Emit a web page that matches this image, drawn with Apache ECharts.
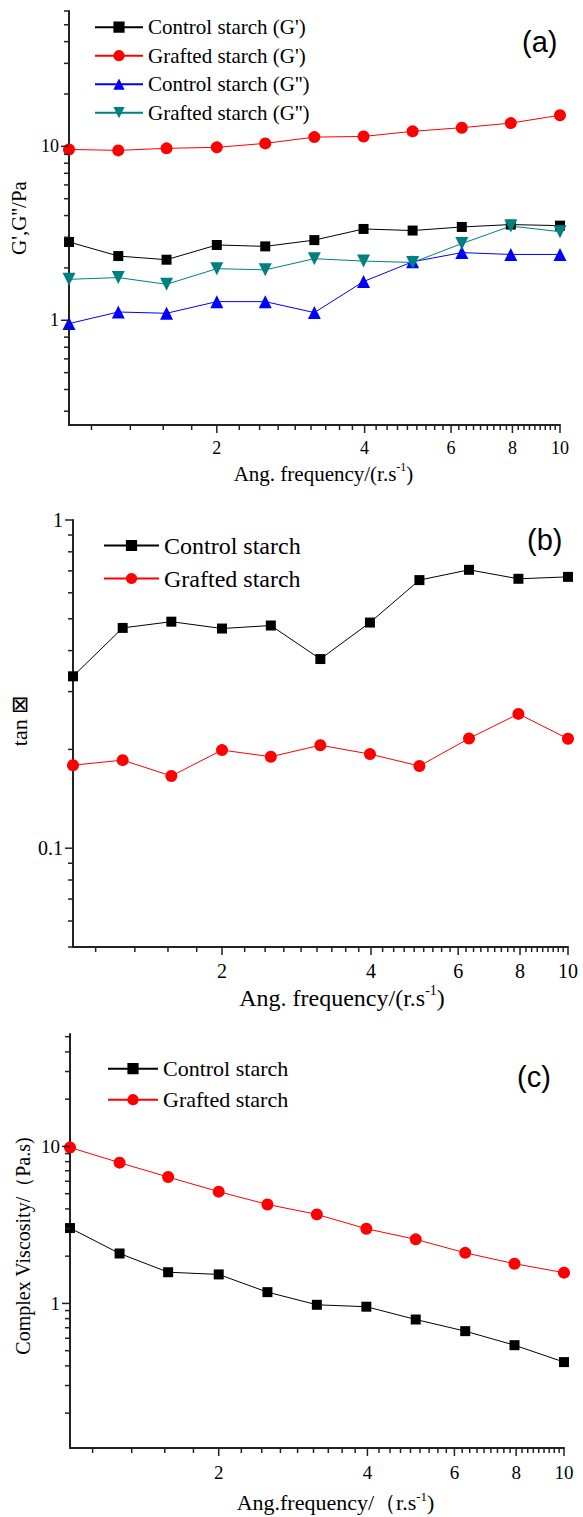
<!DOCTYPE html>
<html><head><meta charset="utf-8">
<script src="https://cdn.jsdelivr.net/npm/echarts@6/dist/echarts.min.js"></script>
<style>html,body{margin:0;padding:0;background:#fff}#c{width:583px;height:1517px}</style>
</head><body><div id="c"></div>
<script>
// ---- data ----
const freq = [1, 1.26, 1.58, 2, 2.51, 3.16, 3.98, 5.01, 6.31, 7.94, 10];
// panel (a)
const gpControl   = [2.82, 2.34, 2.23, 2.71, 2.66, 2.89, 3.35, 3.28, 3.44, 3.55, 3.50];
const gpGrafted   = [9.6, 9.48, 9.74, 9.87, 10.4, 11.3, 11.4, 12.2, 12.8, 13.6, 15.1];
const gppControl  = [0.957, 1.116, 1.097, 1.28, 1.28, 1.107, 1.67, 2.17, 2.45, 2.39, 2.39];
const gppGrafted  = [1.72, 1.76, 1.61, 1.98, 1.95, 2.26, 2.19, 2.15, 2.76, 3.48, 3.23];
// panel (b)
const tanControl  = [0.334, 0.469, 0.49, 0.467, 0.477, 0.377, 0.487, 0.656, 0.705, 0.662, 0.671];
const tanGrafted  = [0.179, 0.1855, 0.166, 0.199, 0.19, 0.206, 0.1935, 0.178, 0.216, 0.2566, 0.2155];
// panel (c)
const viscControl = [3.02, 2.08, 1.58, 1.53, 1.18, 0.98, 0.953, 0.79, 0.666, 0.542, 0.423];
const viscGrafted = [9.85, 7.88, 6.38, 5.15, 4.27, 3.69, 2.99, 2.56, 2.10, 1.79, 1.57];

// ---- axes / ticks ----
const xRange = [1, 10];
const xMajorTicks = [2, 4, 6, 8, 10];
const xTickLabels = ['2', '4', '6', '8', '10'];
const yRangeA = [0.25, 60], yMajorA = [1, 10],  yLabelsA = ['1', '10'];
const yRangeB = [0.05, 1],  yMajorB = [0.1, 1], yLabelsB = ['0.1', '1'];
const yRangeC = [0.12, 52], yMajorC = [1, 10],  yLabelsC = ['1', '10'];

const SERIF = 'Liberation Serif';
const SANS = 'Liberation Sans';

function xMinor() { const o = []; for (let n = 5; n < 45; n++) if (n % 9 !== 0) o.push(2 * n / 9); return o; }
function yMinor(r) {
  const o = [];
  for (let d = -3; d < 3; d++) for (let k = 2; k <= 9; k++) {
    const v = k * Math.pow(10, d);
    if (v >= r[0] * 0.9999 && v <= r[1] * 1.0001) o.push(v);
  }
  return o;
}
function pairs(vals) { return freq.map((f, i) => [f, vals[i]]); }

function xTicks(gi, yMin, fontSize, labelOff) {
  const data = xMajorTicks.map((v, i) => [v, yMin, 1, i]).concat(xMinor().map(v => [v, yMin, 0, -1]));
  return {
    type: 'custom', xAxisIndex: gi, yAxisIndex: gi, silent: true, clip: false, z: 10,
    data: data,
    renderItem: function (params, api) {
      const p = api.coord([api.value(0), api.value(1)]);
      const major = api.value(2) === 1;
      const ch = [{ type: 'line', shape: { x1: p[0], y1: p[1], x2: p[0], y2: p[1] + (major ? 8 : 5) },
        style: { stroke: '#222', lineWidth: 1.5 } }];
      if (major) ch.push({ type: 'text', style: { text: xTickLabels[api.value(3)], x: p[0], y: p[1] + labelOff,
        align: 'center', verticalAlign: 'middle', font: fontSize + 'px ' + SERIF, fill: '#000' } });
      return { type: 'group', children: ch };
    }
  };
}
function yTicks(gi, range, majors, labels, fontSize) {
  const data = majors.map((v, i) => [xRange[0], v, 1, i]).concat(yMinor(range).map(v => [xRange[0], v, 0, -1]));
  return {
    type: 'custom', xAxisIndex: gi, yAxisIndex: gi, silent: true, clip: false, z: 10,
    data: data,
    renderItem: function (params, api) {
      const p = api.coord([api.value(0), api.value(1)]);
      const major = api.value(2) === 1;
      const ch = [{ type: 'line', shape: { x1: p[0], y1: p[1], x2: p[0] - (major ? 8 : 5), y2: p[1] },
        style: { stroke: '#222', lineWidth: 1.5 } }];
      if (major) ch.push({ type: 'text', style: { text: labels[api.value(3)], x: p[0] - 10, y: p[1],
        align: 'right', verticalAlign: 'middle', font: fontSize + 'px ' + SERIF, fill: '#000' } });
      return { type: 'group', children: ch };
    }
  };
}

const DOWN_TRI = 'path://M0,0L10,0L5,9Z';
function lineSeries(gi, name, vals, symbol, size, color) {
  return { type: 'line', name: name, xAxisIndex: gi, yAxisIndex: gi, data: pairs(vals),
    symbol: symbol, symbolSize: size, showAllSymbol: true, clip: false,
    lineStyle: { color: color, width: 1 }, itemStyle: { color: color } };
}

const axisLine = { show: true, onZero: false, lineStyle: { color: '#222', width: 2 } };
function xAxis(gi, fs, gap, padL, lh, sup, nameText) {
  return { type: 'log', logBase: 10, gridIndex: gi, min: xRange[0], max: xRange[1],
    axisLine: axisLine, axisTick: { show: false }, axisLabel: { show: false }, splitLine: { show: false },
    name: nameText, nameLocation: 'middle', nameGap: gap,
    nameTextStyle: { fontFamily: SERIF, fontSize: fs, color: '#000', padding: [0, 0, 0, padL],
      rich: { n: { fontFamily: SERIF, fontSize: fs, lineHeight: lh, color: '#000' },
              s: { fontFamily: SERIF, fontSize: sup, verticalAlign: 'top', color: '#000' } } } };
}
function yAxis(gi, range, name, fs, gap, pad) {
  return { type: 'log', logBase: 10, gridIndex: gi, min: range[0], max: range[1],
    axisLine: axisLine, axisTick: { show: false }, axisLabel: { show: false }, splitLine: { show: false },
    name: name, nameLocation: 'middle', nameGap: gap,
    nameTextStyle: { fontFamily: SERIF, fontSize: fs, color: '#000', padding: pad } };
}
function legend(left, top, iw, gap, fs, lh, names) {
  return { orient: 'vertical', left: left, top: top, padding: 0, itemWidth: iw, itemHeight: 14, itemGap: gap,
    selectedMode: false, data: names,
    textStyle: { fontFamily: SERIF, fontSize: fs, lineHeight: lh, color: '#000' } };
}

const chart = echarts.init(document.getElementById('c'), null, { renderer: 'svg', width: 583, height: 1517 });
chart.setOption({
  animation: false,
  backgroundColor: '#fff',
  textStyle: { fontFamily: SERIF },
  grid: [
    { left: 69, top: 11, width: 491, height: 414 },
    { left: 71, top: 520, width: 497, height: 427 },
    { left: 70, top: 1034, width: 494, height: 414 }
  ],
  title: [
    { text: '(a)', left: 522, top: 27, padding: 0, textStyle: { fontFamily: SANS, fontSize: 29, fontWeight: 'normal', color: '#000' } },
    { text: '(b)', left: 527, top: 525, padding: 0, textStyle: { fontFamily: SANS, fontSize: 29, fontWeight: 'normal', color: '#000' } },
    { text: '(c)', left: 517, top: 1062, padding: 0, textStyle: { fontFamily: SANS, fontSize: 29, fontWeight: 'normal', color: '#000' } }
  ],
  legend: [
    legend(94, 16.7, 48, 7.5, 21, 20, ["Control starch (G')", "Grafted starch (G')", "Control starch (G'')", "Grafted starch (G'')"]),
    legend(103, 533.5, 55, 9, 24, 22, ['Control starch', 'Grafted starch']),
    legend(107, 1057.7, 50, 9, 22, 20, ['Control starch', 'Grafted starch'])
  ],
  xAxis: [
    xAxis(0, 21, 36, 18, 25, 12, '{n|Ang. frequency/(r.s}{s|-1}{n|)}'),
    xAxis(1, 24, 36.5, 43, 28, 14, '{n|Ang. frequency/(r.s}{s|-1}{n|)}'),
    xAxis(2, 22, 41.5, 37, 26, 13, '{n|Ang.frequency/（r.s}{s|-1}{n|)}')
  ],
  yAxis: [
    yAxis(0, yRangeA, "G',G''/Pa", 21, 40, [0, 0, 0, 0]),
    yAxis(1, yRangeB, 'tan \u22A0', 22, 43, [0, 0, 0, 25]),
    yAxis(2, yRangeC, 'Complex Viscosity/（Pa.s)', 20, 37, [0, 10, 0, 0])
  ],
  series: [
    lineSeries(0, "Control starch (G')", gpControl, 'rect', 10, '#000000'),
    lineSeries(0, "Grafted starch (G')", gpGrafted, 'circle', 12, '#ff0000'),
    lineSeries(0, "Control starch (G'')", gppControl, 'triangle', 13, '#0000ff'),
    lineSeries(0, "Grafted starch (G'')", gppGrafted, DOWN_TRI, 13, '#008080'),
    lineSeries(1, 'Control starch', tanControl, 'rect', 10, '#000000'),
    lineSeries(1, 'Grafted starch', tanGrafted, 'circle', 12, '#ff0000'),
    lineSeries(2, 'Control starch', viscControl, 'rect', 10, '#000000'),
    lineSeries(2, 'Grafted starch', viscGrafted, 'circle', 12, '#ff0000'),
    xTicks(0, yRangeA[0], 18, 23), yTicks(0, yRangeA, yMajorA, yLabelsA, 18),
    xTicks(1, yRangeB[0], 20, 24), yTicks(1, yRangeB, yMajorB, yLabelsB, 20),
    xTicks(2, yRangeC[0], 19, 24), yTicks(2, yRangeC, yMajorC, yLabelsC, 19)
  ]
});
</script></body></html>
